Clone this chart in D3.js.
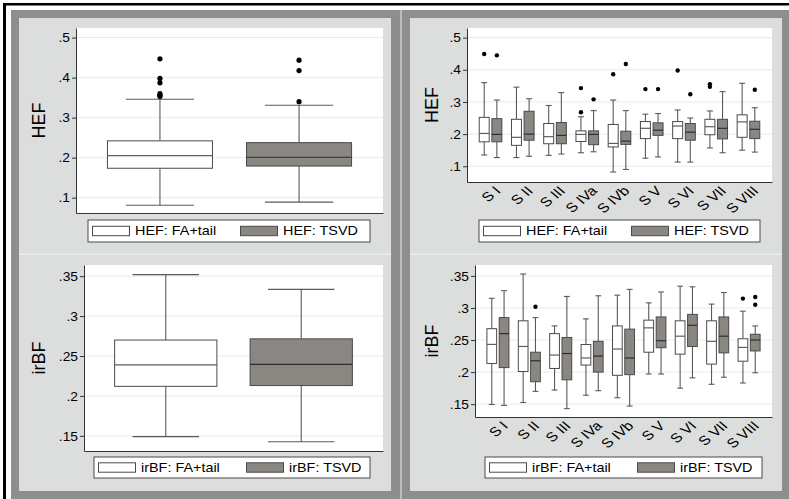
<!DOCTYPE html>
<html>
<head>
<meta charset="utf-8">
<script src="https://cdn.jsdelivr.net/npm/d3@7"></script>
<style>
  body { margin: 0; background: #fff; }
  text { font-family: 'Liberation Sans', Arial, sans-serif; fill: #000; }
</style>
</head>
<body>
<div id="chart"></div>
<script>
// every box is [lower whisker, q1, median, q3, upper whisker]
const seriesKeys = ['FA+tail', 'TSVD'];
const stations = ['S I', 'S II', 'S III', 'S IVa', 'S IVb', 'S V', 'S VI', 'S VII', 'S VIII'];
const hefTicks = [0.1, 0.2, 0.3, 0.4, 0.5];
const irbfTicks = [0.15, 0.2, 0.25, 0.3, 0.35];

// pooled
const hefAllFa = [0.081, 0.1735, 0.205, 0.242, 0.346];
const hefAllTsvd = [0.089, 0.179, 0.201, 0.2375, 0.331];
const hefAllFaOut = [0.447, 0.398, 0.387, 0.360, 0.356, 0.353];
const hefAllTsvdOut = [0.4435, 0.4175, 0.340];
const irbfAllFa = [0.149, 0.212, 0.239, 0.270, 0.352];
const irbfAllTsvd = [0.1425, 0.213, 0.2395, 0.2715, 0.3335];

// by station
const hefFa = [
  [0.135, 0.176, 0.202, 0.252, 0.360],
  [0.127, 0.165, 0.190, 0.246, 0.346],
  [0.134, 0.170, 0.192, 0.233, 0.289],
  [0.142, 0.177, 0.199, 0.210, 0.254],
  [0.082, 0.160, 0.171, 0.230, 0.306],
  [0.125, 0.186, 0.218, 0.239, 0.262],
  [0.113, 0.186, 0.225, 0.239, 0.275],
  [0.157, 0.198, 0.223, 0.246, 0.272],
  [0.150, 0.190, 0.238, 0.260, 0.358]
];
const hefFaOut = [[0.449], [], [], [0.343, 0.268], [0.386], [0.340], [0.398], [0.355, 0.347], []];
const hefTsvd = [
  [0.127, 0.176, 0.199, 0.248, 0.306],
  [0.131, 0.181, 0.200, 0.271, 0.310],
  [0.138, 0.170, 0.196, 0.236, 0.329],
  [0.145, 0.167, 0.199, 0.210, 0.273],
  [0.090, 0.168, 0.178, 0.209, 0.273],
  [0.129, 0.196, 0.212, 0.235, 0.264],
  [0.113, 0.181, 0.206, 0.233, 0.250],
  [0.142, 0.185, 0.218, 0.246, 0.332],
  [0.144, 0.186, 0.215, 0.240, 0.282]
];
const hefTsvdOut = [[0.445], [], [], [0.308], [0.418], [0.340], [0.324], [], [0.338]];

const irbfFa = [
  [0.1495, 0.2135, 0.2432, 0.2677, 0.315],
  [0.1526, 0.201, 0.240, 0.280, 0.353],
  [0.172, 0.2057, 0.2266, 0.260, 0.272],
  [0.164, 0.211, 0.222, 0.243, 0.283],
  [0.160, 0.195, 0.236, 0.272, 0.320],
  [0.197, 0.231, 0.269, 0.281, 0.308],
  [0.175, 0.228, 0.256, 0.280, 0.334],
  [0.181, 0.2125, 0.248, 0.280, 0.306],
  [0.183, 0.217, 0.2385, 0.252, 0.295]
];
const irbfFaOut = [[], [], [], [], [], [], [], [], [0.3146]];
const irbfTsvd = [
  [0.148, 0.207, 0.260, 0.285, 0.327],
  [0.170, 0.185, 0.2177, 0.231, 0.285],
  [0.143, 0.188, 0.229, 0.254, 0.318],
  [0.171, 0.200, 0.225, 0.248, 0.319],
  [0.147, 0.196, 0.222, 0.267, 0.329],
  [0.197, 0.238, 0.249, 0.286, 0.325],
  [0.191, 0.240, 0.273, 0.290, 0.333],
  [0.192, 0.230, 0.256, 0.286, 0.324],
  [0.199, 0.233, 0.250, 0.259, 0.272]
];
const irbfTsvdOut = [[], [0.302], [], [], [], [], [], [], [0.317, 0.305]];

const seriesFill = ['#ffffff', '#8a8682'];
const medianColor = ['#5e5e5e', '#2e2e2e'];
const fmt = d => String(+d.toFixed(2)).replace(/^0/, '');

const width = 789, height = 499;
const svg = d3.select('#chart').append('svg')
  .attr('width', width)
  .attr('height', height);

// outer black rule, grey frames, light graph regions
svg.append('rect').attr('x', 3).attr('y', 3).attr('width', width - 3).attr('height', 2.5).attr('fill', '#000');
svg.append('rect').attr('x', 3).attr('y', 3).attr('width', 3).attr('height', height - 3).attr('fill', '#000');
svg.append('rect').attr('x', 11).attr('y', 10).attr('width', 389).attr('height', 495).attr('fill', '#8e8e8e');
svg.append('rect').attr('x', 402).attr('y', 10).attr('width', 387).attr('height', 495).attr('fill', '#8e8e8e');
svg.append('rect').attr('x', 400).attr('y', 10).attr('width', 2).attr('height', 495).attr('fill', '#bcbcbc');
svg.append('rect').attr('x', 19).attr('y', 18).attr('width', 372).attr('height', 473).attr('fill', '#dcdddd');
svg.append('rect').attr('x', 410).attr('y', 18).attr('width', 372).attr('height', 473).attr('fill', '#dcdddd');
svg.append('rect').attr('x', 19).attr('y', 253.5).attr('width', 372).attr('height', 1.5).attr('fill', '#e9efef');
svg.append('rect').attr('x', 410).attr('y', 253.5).attr('width', 372).attr('height', 1.5).attr('fill', '#e9efef');

function drawPanel(cfg) {
  const w = cfg.right - cfg.left, h = cfg.bottom - cfg.top;
  const g = svg.append('g').attr('transform', 'translate(' + cfg.left + ',' + cfg.top + ')');
  g.append('rect').attr('width', w).attr('height', h).attr('fill', '#fff');

  const y = d3.scaleLinear().domain(cfg.domain).range([h, 0]);
  const x = d3.scaleBand().domain(cfg.groups).range([0, w])
    .paddingInner(0).paddingOuter(cfg.groupPad);
  const xs = d3.scaleBand().domain(seriesKeys).range([0, x.bandwidth()])
    .paddingInner(cfg.boxPadIn).paddingOuter(cfg.boxPadOut);

  // grid
  g.append('g').selectAll('line').data(cfg.ticks).join('line')
    .attr('x1', 0).attr('x2', w)
    .attr('y1', d => y(d)).attr('y2', d => y(d))
    .attr('stroke', '#e4eced').attr('stroke-width', 1);

  // boxes
  cfg.groups.forEach(function(grp, i) {
    seriesKeys.forEach(function(s, j) {
      const st = cfg.stats[j][i];
      const out = cfg.outliers[j][i];
      const bw = xs.bandwidth();
      const bx = x(grp) + xs(s);
      const cx = bx + bw / 2;
      const cap = bw * cfg.capFrac;
      const bg = g.append('g');
      bg.append('line').attr('x1', cx).attr('x2', cx).attr('y1', y(st[0])).attr('y2', y(st[1]))
        .attr('stroke', '#5a5a5a').attr('stroke-width', 1.1);
      bg.append('line').attr('x1', cx).attr('x2', cx).attr('y1', y(st[3])).attr('y2', y(st[4]))
        .attr('stroke', '#5a5a5a').attr('stroke-width', 1.1);
      bg.append('line').attr('x1', cx - cap / 2).attr('x2', cx + cap / 2).attr('y1', y(st[0])).attr('y2', y(st[0]))
        .attr('stroke', '#5a5a5a').attr('stroke-width', 1.1);
      bg.append('line').attr('x1', cx - cap / 2).attr('x2', cx + cap / 2).attr('y1', y(st[4])).attr('y2', y(st[4]))
        .attr('stroke', '#5a5a5a').attr('stroke-width', 1.1);
      bg.append('rect').attr('x', bx).attr('y', y(st[3]))
        .attr('width', bw).attr('height', y(st[1]) - y(st[3]))
        .attr('fill', seriesFill[j]).attr('stroke', '#4a4a4a').attr('stroke-width', 1);
      bg.append('line').attr('x1', bx).attr('x2', bx + bw).attr('y1', y(st[2])).attr('y2', y(st[2]))
        .attr('stroke', medianColor[j]).attr('stroke-width', 1.2);
      bg.selectAll('circle').data(out).join('circle')
        .attr('cx', cx).attr('cy', d => y(d)).attr('r', cfg.r).attr('fill', '#000');
    });
  });

  // y axis
  const ya = g.append('g')
    .call(d3.axisLeft(y).tickValues(cfg.ticks).tickSize(4).tickSizeOuter(0).tickFormat(fmt));
  ya.select('.domain').attr('stroke', '#333');
  ya.selectAll('.tick line').attr('stroke', '#333');
  ya.selectAll('.tick text')
    .attr('x', null).attr('dy', null)
    .attr('font-family', null).attr('font-size', null)
    .style('font-size', '12px')
    .attr('dominant-baseline', 'central')
    .attr('transform', 'translate(-6,0) scale(1.15,1)');

  // x axis
  const xa = g.append('g').attr('transform', 'translate(0,' + h + ')')
    .call(d3.axisBottom(x).tickSize(0).tickSizeOuter(0));
  xa.select('.domain').attr('stroke', '#333');
  xa.selectAll('.tick text')
    .attr('y', null).attr('dy', null)
    .attr('font-family', null).attr('font-size', null)
    .style('font-size', '13px')
    .attr('text-anchor', 'end')
    .attr('dy', '0.72em')
    .attr('transform', 'translate(3,3) scale(1.2,1) rotate(-45)');

  // axis title
  svg.append('text')
    .attr('transform', 'translate(' + cfg.titleX + ',' + (cfg.top + cfg.bottom) / 2 + ') rotate(-90)')
    .attr('text-anchor', 'middle')
    .attr('dominant-baseline', 'central')
    .style('font-size', '18px')
    .text(cfg.varName);

  // legend
  const lg = svg.append('g').attr('transform', 'translate(' + cfg.legend.x + ',' + cfg.legend.y + ')');
  lg.append('rect').attr('width', cfg.legend.w).attr('height', cfg.legend.h)
    .attr('fill', '#fff').attr('stroke', '#4a4a4a').attr('stroke-width', 1);
  const itemX = [4.5, 152.5];
  seriesKeys.forEach(function(s, j) {
    lg.append('rect').attr('x', itemX[j]).attr('y', cfg.legend.h / 2 - 4.7)
      .attr('width', 37).attr('height', 9.4)
      .attr('fill', seriesFill[j]).attr('stroke', '#4a4a4a').attr('stroke-width', 1);
    lg.append('text')
      .attr('transform', 'translate(' + (itemX[j] + 42.5) + ',' + (cfg.legend.h / 2) + ') scale(1.2,1)')
      .attr('dominant-baseline', 'central')
      .style('font-size', '12px')
      .text(cfg.varName + ': ' + s);
  });
}

drawPanel({
  varName: 'HEF', left: 76, right: 383, top: 28, bottom: 213,
  domain: [0.0617, 0.524], ticks: hefTicks, groups: [''],
  stats: [[hefAllFa], [hefAllTsvd]], outliers: [[hefAllFaOut], [hefAllTsvdOut]],
  groupPad: 0, boxPadIn: 0.245, boxPadOut: 0.226, capFrac: 0.65, r: 2.6,
  titleX: 39, legend: { x: 88, y: 220, w: 282, h: 22 }
});
drawPanel({
  varName: 'irBF', left: 84, right: 383, top: 265, bottom: 451,
  domain: [0.131, 0.364], ticks: irbfTicks, groups: [''],
  stats: [[irbfAllFa], [irbfAllTsvd]], outliers: [[[]], [[]]],
  groupPad: 0, boxPadIn: 0.245, boxPadOut: 0.226, capFrac: 0.65, r: 2.6,
  titleX: 39, legend: { x: 94, y: 457, w: 276, h: 21 }
});
drawPanel({
  varName: 'HEF', left: 467, right: 772, top: 28, bottom: 182,
  domain: [0.051, 0.530], ticks: hefTicks, groups: stations,
  stats: [hefFa, hefTsvd], outliers: [hefFaOut, hefTsvdOut],
  groupPad: 0.23, boxPadIn: 0.21, boxPadOut: 0.38, capFrac: 0.6, r: 2.2,
  titleX: 431.5, legend: { x: 479, y: 220, w: 281, h: 22 }
});
drawPanel({
  varName: 'irBF', left: 475, right: 772, top: 265, bottom: 417,
  domain: [0.130, 0.367], ticks: irbfTicks, groups: stations,
  stats: [irbfFa, irbfTsvd], outliers: [irbfFaOut, irbfTsvdOut],
  groupPad: 0.23, boxPadIn: 0.21, boxPadOut: 0.38, capFrac: 0.6, r: 2.2,
  titleX: 431.5, legend: { x: 485, y: 457, w: 277, h: 21 }
});
</script>
</body>
</html>
